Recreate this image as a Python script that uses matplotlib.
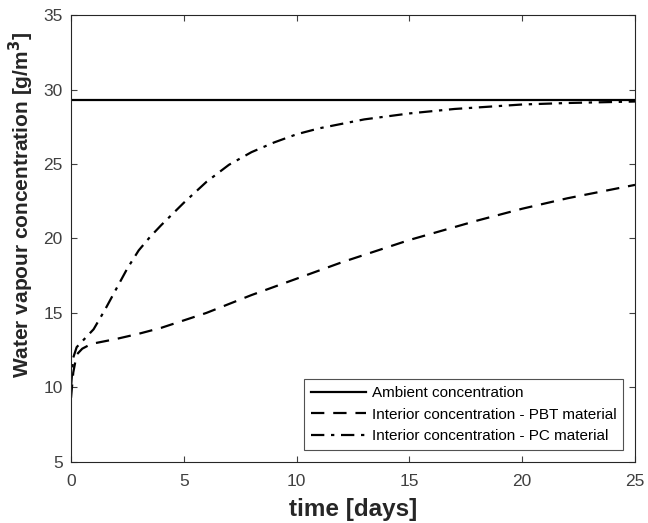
import matplotlib
matplotlib.use("Agg")
import matplotlib.pyplot as plt
import numpy as np

plt.rcParams['font.family'] = ['Liberation Sans', 'DejaVu Sans']

# Data
ambient_t = [0, 25]
ambient_c = [29.3, 29.3]

pbt_t = [0, 0.1, 0.25, 0.5, 0.75, 1, 1.5, 2, 3, 4, 5, 6, 7, 8, 10, 12, 15, 18, 20, 22, 25]
pbt_c = [9.3, 11.0, 12.2, 12.6, 12.8, 12.95, 13.1, 13.25, 13.6, 14.0, 14.5, 15.0, 15.6, 16.2, 17.3, 18.4, 19.9, 21.2, 22.0, 22.7, 23.6]

pc_t = [0, 0.1, 0.25, 0.5, 0.75, 1, 1.5, 2, 2.5, 3, 3.5, 4, 5, 6, 7, 8, 9, 10, 11, 12, 13, 14, 15, 17, 20, 22, 25]
pc_c = [10.0, 12.0, 12.7, 13.1, 13.5, 13.9, 15.2, 16.6, 18.0, 19.2, 20.1, 20.9, 22.4, 23.8, 24.95, 25.8, 26.45, 27.0, 27.4, 27.7, 28.0, 28.2, 28.4, 28.7, 29.0, 29.1, 29.2]

legend_labels = ["Ambient concentration",
                 "Interior concentration - PBT material",
                 "Interior concentration - PC material"]

fig = plt.figure(figsize=(6.48, 5.23), dpi=100)
ax = fig.add_axes([0.1096, 0.117, 0.8704, 0.854])

ax.plot(ambient_t, ambient_c, color='black', lw=1.6, ls='-', label=legend_labels[0])
ax.plot(pbt_t, pbt_c, color='black', lw=1.6, ls=(0, (6, 4)), label=legend_labels[1])
ax.plot(pc_t, pc_c, color='black', lw=1.6, ls=(0, (6, 3, 1.5, 3)), label=legend_labels[2])

ax.set_xlim(0, 25)
ax.set_ylim(5, 35)
ax.set_xticks([0, 5, 10, 15, 20, 25])
ax.set_yticks([5, 10, 15, 20, 25, 30, 35])
ax.tick_params(direction='in', top=True, right=True, labelsize=12.5, colors='#404040', length=4)
ax.tick_params(axis='x', pad=9)
ax.tick_params(axis='y', pad=6)
for s in ax.spines.values():
    s.set_color('#262626')
    s.set_linewidth(0.8)

ax.set_xlabel('time [days]', fontsize=17.5, fontweight='bold', color='#262626', labelpad=6)
ax.set_ylabel('Water vapour concentration [g/m$^\\mathbf{3}$]', fontsize=15, fontweight='bold', color='#262626')
ax.yaxis.set_label_coords(-0.062, 0.574)

leg = ax.legend(loc='lower right', bbox_to_anchor=(0.979, 0.027), fontsize=11, frameon=True,
                fancybox=False, edgecolor='#262626', handlelength=3.6, borderpad=0.45,
                labelspacing=0.48, handletextpad=0.4, borderaxespad=0.0)
leg.get_frame().set_linewidth(0.8)

fig.savefig('out.png', dpi=100)
